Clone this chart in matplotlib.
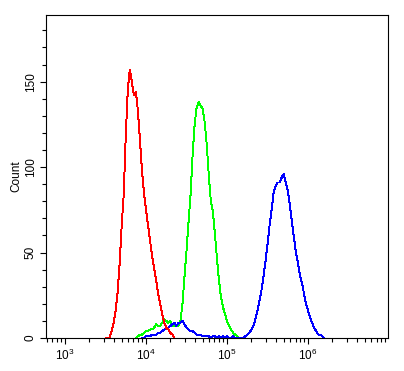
import numpy as np
import matplotlib
matplotlib.use("Agg")
import matplotlib.pyplot as plt
from matplotlib.ticker import FixedLocator, NullFormatter

plt.rcParams["font.family"] = ["Liberation Sans", "DejaVu Sans"]
plt.rcParams["font.size"] = 8.5

# histogram channels: log10 of first bin centre, bin width in decades
BIN_W = 0.025

RED_FIRST = 3.500
red = [0, 0, 0, 4, 9, 16, 27, 44, 66, 84, 118, 145, 157, 150, 142, 144, 133,
       116, 98, 85, 75, 66, 57, 48, 41, 34, 26, 20, 14, 9, 6, 5, 3, 2, 0]

GREEN_FIRST = 3.875
green = [0, 1, 2, 2, 3, 4, 4, 5, 5, 6, 8, 7, 7, 9, 11, 10, 9, 10, 7, 7, 7, 7,
         10, 20, 36, 51, 68, 84, 107, 125, 135, 138, 136, 134, 126, 113, 95,
         80, 74, 61, 47, 34, 24, 18, 14, 10, 7, 5, 3, 2, 1, 0, 0]

BLUE_FIRST = 3.950
blue = [0, 0, 1, 1, 1, 2, 2, 2, 3, 3, 4, 5, 5, 6, 7, 8, 9, 7, 9, 9, 10, 8, 6,
        5, 4, 4, 3, 2, 2, 2, 1, 1, 1, 1, 0, 1, 1, 0, 1, 0, 1, 0, 1, 0, 0, 1,
        0, 0, 0, 0, 0, 1, 2, 3, 5, 7, 11, 16, 22, 28, 36, 45, 55, 66, 75, 85,
        89, 91, 91, 94, 96, 91, 86, 78, 68, 59, 50, 44, 37, 32, 26, 20, 16, 12,
        9, 6, 4, 2, 2, 1, 0]

X_MAJOR = [1e3, 1e4, 1e5, 1e6]
X_LABELS = [r"$\mathregular{10^{3}}$", r"$\mathregular{10^{4}}$",
            r"$\mathregular{10^{5}}$", r"$\mathregular{10^{6}}$"]
Y_MAJOR = [0, 50, 100, 150]


def centres(first, counts):
    return 10 ** (first + BIN_W * np.arange(len(counts)))


fig = plt.figure(figsize=(4.04, 3.71), dpi=100)
ax = fig.add_axes([0.1139, 0.0889, 0.8472, 0.8706])

line_kw = dict(lw=0.7, antialiased=False)
ax.plot(centres(GREEN_FIRST, green), green, color="#00FF00", **line_kw)
ax.plot(centres(BLUE_FIRST, blue), blue, color="#0000FF", **line_kw)
ax.plot(centres(RED_FIRST, red), red, color="#FF0000", **line_kw)

ax.set_xscale("log")
ax.set_xlim(10 ** 2.766, 10 ** 6.99)
ax.set_ylim(0, 189)

ax.xaxis.set_major_locator(FixedLocator(X_MAJOR))
ax.set_xticklabels(X_LABELS)
minors = [m * 10 ** e for e in range(2, 7) for m in range(2, 10)]
ax.xaxis.set_minor_locator(FixedLocator(minors))
ax.xaxis.set_minor_formatter(NullFormatter())

ax.yaxis.set_major_locator(FixedLocator(Y_MAJOR))
ax.yaxis.set_minor_locator(FixedLocator(list(range(0, 190, 10))))

for s in ax.spines.values():
    s.set_linewidth(0.8)
ax.tick_params(which="major", length=4.3, width=0.8, pad=2.5)
ax.tick_params(which="minor", length=2.9, width=0.8)
ax.tick_params(axis="y", labelrotation=90)
for lab in ax.get_yticklabels():
    lab.set_va("center")

ax.set_ylabel("Count")
ax.yaxis.set_label_coords(-0.068, 0.5)

fig.savefig("out.png", dpi=100)
